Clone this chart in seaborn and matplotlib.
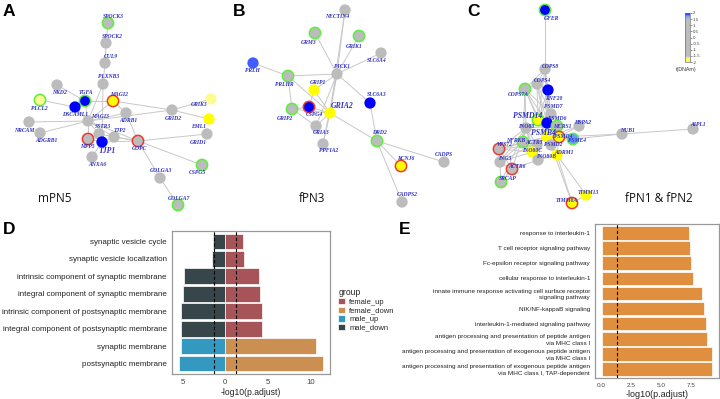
import matplotlib

matplotlib.use("Agg")
import matplotlib.pyplot as plt
import numpy as np
import pandas as pd
import seaborn as sns
from matplotlib.cm import ScalarMappable
from matplotlib.colors import LinearSegmentedColormap, Normalize

sns.set_style("white")
plt.rcParams["font.family"] = ["Liberation Sans", "DejaVu Sans"]

# ---------------- network panels (layout in figure pixels) ----------------
A_genes = ["SPOCK3", "SPOCK2", "CUL9", "PLXNB3", "NKD2", "PLCL2", "TGFA", "MAGI2",
           "DSCAML1", "ADRB1", "GRID2", "GRIK3", "EML1", "GRID1", "NRCAM", "MAGI3",
           "ADGRB1", "SSTR3", "TJP2", "MPP5", "TJP1", "GOPC", "ANXA6", "CSPG5",
           "GOLGA3", "GOLGA7"]
A_x = [108, 106, 105, 103, 57, 40, 85, 113, 75, 126, 172, 211, 209, 207, 29, 88,
       40, 99, 114, 88, 102, 138, 92, 202, 160, 178]
A_y = [23, 43, 63, 84, 85, 100, 101, 101, 107, 113, 110, 99, 119, 134, 122, 121,
       133, 134, 137, 139, 142, 141, 157, 165, 178, 205]
A_lx = [113, 112, 111, 109, 59, 39, 86, 119, 75, 128, 173, 199, 199, 198, 24, 100,
        46, 103, 120, 87, 107, 140, 97, 197, 161, 179]
A_ly = [16, 37, 57, 77, 93, 109, 93, 94, 115, 121, 118, 105, 126, 142, 130, 116,
        141, 127, 131, 147, 151, 149, 165, 173, 171, 198]
A_t = [0, 0, 0, 0, 0, -1.75, 2, -2, 2, 0, 0, -1.75, -2, 0, 0, 0, 0, 0, 0, 0, 2,
       0, 0, 0, 0, 0]
A_ring = ["g", "", "", "", "", "g", "g", "r", "", "", "", "", "", "", "", "", "",
          "", "", "r", "", "r", "", "g", "", "g"]
A_big = ["TJP1"]
A_edges = [("SPOCK3", "SPOCK2"), ("SPOCK2", "CUL9"), ("CUL9", "PLXNB3"),
           ("PLXNB3", "MAGI3"), ("PLXNB3", "TJP1"), ("NKD2", "TGFA"),
           ("PLCL2", "DSCAML1"), ("TGFA", "MAGI2"), ("TGFA", "MAGI3"),
           ("TGFA", "DSCAML1"), ("MAGI2", "GRID2"), ("MAGI2", "MAGI3"),
           ("MAGI2", "ADRB1"), ("DSCAML1", "MAGI3"), ("GRID2", "GRIK3"),
           ("GRID2", "EML1"), ("GRID2", "MAGI3"), ("GRID1", "GOPC"),
           ("NRCAM", "MAGI3"), ("ADGRB1", "MAGI3"), ("MAGI3", "SSTR3"),
           ("MAGI3", "TJP2"), ("MAGI3", "GOPC"), ("MAGI3", "ADRB1"),
           ("MAGI3", "MPP5"), ("SSTR3", "GOPC"), ("TJP2", "GOPC"),
           ("TJP1", "TJP2"), ("TJP1", "MPP5"), ("TJP1", "ANXA6"),
           ("TJP1", "GOPC"), ("ADRB1", "GOPC"), ("GOPC", "CSPG5"),
           ("GOPC", "GOLGA3"), ("GOLGA3", "GOLGA7")]

B_genes = ["NECTIN4", "GRM3", "GRIK1", "SLC6A4", "PRLH", "PICK1", "PRLHR", "GRIP1",
           "SLC6A3", "GRIP2", "CSPG4", "GRIA2", "GRIA3", "DRD2", "PPFIA2", "KCNJ6",
           "CADPS", "CADPS2"]
B_x = [345, 315, 359, 381, 253, 337, 288, 314, 370, 292, 309, 330, 316, 377, 323,
       401, 444, 402]
B_y = [10, 33, 36, 53, 63, 74, 76, 90, 103, 109, 107, 113, 126, 141, 144, 166,
       162, 202]
B_lx = [337, 309, 354, 377, 252, 342, 284, 318, 377, 285, 314, 342, 321, 379, 329,
        406, 444, 407]
B_ly = [17, 42, 46, 61, 71, 67, 85, 82, 95, 118, 115, 106, 133, 133, 151, 159,
        154, 195]
B_t = [0, 0, 0, 0, 1.85, 0, 0, -2, 2, 0, 2, -2, 0, 0, 0, -2, 0, 0]
B_ring = ["", "g", "g", "", "", "", "g", "", "", "g", "r", "", "", "g", "", "r",
          "", ""]
B_big = ["GRIA2"]
B_edges = [("NECTIN4", "PICK1"), ("NECTIN4", "GRIA2"), ("GRM3", "PICK1"),
           ("GRIK1", "PICK1"), ("SLC6A4", "PICK1"), ("PRLH", "PRLHR"),
           ("PRLHR", "PICK1"), ("PRLHR", "GRIP2"), ("PRLHR", "GRIA2"),
           ("PICK1", "GRIP1"), ("PICK1", "GRIA2"), ("PICK1", "SLC6A3"),
           ("PICK1", "GRIA3"), ("PICK1", "PPFIA2"), ("GRIP1", "GRIA2"),
           ("GRIP1", "CSPG4"), ("GRIP2", "CSPG4"), ("GRIP2", "GRIA2"),
           ("GRIP2", "GRIA3"), ("CSPG4", "GRIA2"), ("GRIA3", "GRIA2"),
           ("GRIA2", "PPFIA2"), ("GRIA2", "DRD2"), ("SLC6A3", "DRD2"),
           ("DRD2", "KCNJ6"), ("DRD2", "CADPS"), ("DRD2", "CADPS2")]

C_genes = ["GFER", "COPS8", "COPS4", "COPS7A", "RNF20", "PSMD7", "PSMD14", "PSMD6",
           "MCRS1", "HSPA2", "INO80", "PSMB4", "PSMD4", "PSME4", "NUB1", "AIPL1",
           "NFRKB", "ACTR5", "PSMD2", "INO80C", "INO80B", "ADRM1", "VPS72", "ING3",
           "ACTR6", "SRCAP", "TIMM13", "TIMM8A"]
C_x = [545, 545, 537, 525, 548, 551, 538, 547, 557, 579, 526, 547, 559, 573, 622,
       693, 523, 537, 551, 532, 538, 557, 499, 500, 512, 501, 586, 572]
C_y = [10, 69, 84, 89, 90, 114, 120, 123, 126, 126, 128, 137, 137, 139, 134, 129,
       142, 145, 145, 152, 160, 155, 149, 162, 169, 182, 195, 203]
C_lx = [551, 550, 542, 518, 554, 553, 528, 557, 562, 583, 526, 543, 563, 577, 627,
        698, 516, 534, 553, 532, 546, 564, 505, 505, 517, 508, 588, 567]
C_ly = [19, 66, 81, 94, 98, 107, 116, 119, 126, 123, 127, 133, 137, 141, 131, 124,
        140, 142, 145, 150, 156, 152, 144, 159, 166, 178, 192, 200]
C_t = [2, 0, 0, 0, 2, 0, -2, 2, 0, 0, 0, -2, -2, 1.75, 0, 0, 0, 0, 0, -2, 0, -2,
       0, 0, 0, 0, -2, -2]
C_ring = ["g", "", "", "g", "", "", "g", "", "g", "", "", "", "r", "g", "", "",
          "g", "", "", "", "", "", "r", "", "r", "g", "", "r"]
C_big = ["PSMD14", "PSMB4"]
C_edges = [("GFER", "COPS8"), ("COPS8", "COPS4"), ("COPS8", "COPS7A"),
           ("COPS8", "RNF20"), ("COPS8", "PSMD14"), ("COPS8", "PSMD7"),
           ("COPS8", "PSMB4"), ("COPS4", "COPS7A"), ("COPS4", "RNF20"),
           ("COPS4", "PSMD14"), ("COPS4", "PSMD7"), ("COPS4", "PSMB4"),
           ("COPS4", "PSMD6"), ("COPS7A", "PSMD14"), ("COPS7A", "PSMD7"),
           ("COPS7A", "INO80"), ("COPS7A", "PSMB4"), ("COPS7A", "PSMD6"),
           ("COPS7A", "NFRKB"), ("RNF20", "PSMD14"), ("RNF20", "PSMD6"),
           ("RNF20", "PSMB4"), ("PSMD7", "PSMD14"), ("PSMD7", "PSMD6"),
           ("PSMD7", "PSMB4"), ("PSMD14", "PSMD6"), ("PSMD14", "PSMB4"),
           ("PSMD14", "PSMD4"), ("PSMD6", "PSMB4"), ("PSMD6", "PSMD4"),
           ("PSMB4", "PSMD4"), ("PSMB4", "PSME4"), ("PSMB4", "ADRM1"),
           ("PSMB4", "PSMD2"), ("PSMD4", "PSME4"), ("PSMD4", "ADRM1"),
           ("PSMD4", "NUB1"), ("PSMD2", "ADRM1"), ("PSMD14", "ADRM1"),
           ("HSPA2", "PSMD4"), ("HSPA2", "PSMB4"), ("NUB1", "AIPL1"),
           ("NUB1", "PSME4"), ("MCRS1", "INO80"), ("MCRS1", "PSMD4"),
           ("INO80", "NFRKB"), ("INO80", "ACTR5"), ("INO80", "INO80C"),
           ("INO80", "INO80B"), ("INO80", "VPS72"), ("INO80", "ING3"),
           ("NFRKB", "ACTR5"), ("NFRKB", "INO80C"), ("NFRKB", "INO80B"),
           ("NFRKB", "VPS72"), ("NFRKB", "ING3"), ("ACTR5", "INO80C"),
           ("ACTR5", "INO80B"), ("ACTR5", "MCRS1"), ("INO80C", "INO80B"),
           ("INO80B", "ADRM1"), ("VPS72", "SRCAP"), ("VPS72", "ACTR6"),
           ("VPS72", "ING3"), ("VPS72", "ACTR5"), ("VPS72", "INO80C"),
           ("ING3", "ACTR6"), ("ACTR6", "SRCAP"), ("ACTR6", "INO80"),
           ("SRCAP", "INO80"), ("ACTR6", "INO80B"), ("ING3", "INO80C"),
           ("ADRM1", "TIMM13"), ("ADRM1", "TIMM8A"), ("TIMM13", "TIMM8A"),
           ("PSMD2", "TIMM8A"), ("INO80", "PSMD14"), ("NFRKB", "PSMB4"),
           ("ACTR5", "PSMB4"), ("VPS72", "PSMB4"), ("ING3", "PSMB4")]

# ---------------- bar panels ----------------
D_terms = ["synaptic vesicle cycle", "synaptic vesicle localization",
           "intrinsic component of synaptic membrane",
           "integral component of synaptic membrane",
           "intrinsic component of postsynaptic membrane",
           "integral component of postsynaptic membrane",
           "synaptic membrane", "postsynaptic membrane"]
D_female = [2.11, 2.22, 3.94, 4.02, 4.29, 4.33, 10.6, 11.46]
D_female_group = ["female_up"] * 6 + ["female_down"] * 2
D_male = [1.47, 1.59, 4.8, 4.95, 5.26, 5.26, 5.26, 5.5]
D_male_group = ["male_down"] * 6 + ["male_up"] * 2
D_groups = ["female_up", "female_down", "male_up", "male_down"]
D_colors = ["#b5464b", "#e08f3e", "#1ba3d8", "#34474e"]

E_terms = ["response to interleukin-1", "T cell receptor signaling pathway",
           "Fc-epsilon receptor signaling pathway",
           "cellular response to interleukin-1",
           "innate immune response activating cell surface receptor\nsignaling pathway",
           "NIK/NF-kappaB signaling", "interleukin-1-mediated signaling pathway",
           "antigen processing and presentation of peptide antigen\nvia MHC class I",
           "antigen processing and presentation of exogenous peptide antigen\nvia MHC class I",
           "antigen processing and presentation of exogenous peptide antigen\nvia MHC class I, TAP-dependent"]
E_values = [7.36, 7.42, 7.53, 7.70, 8.45, 8.60, 8.74, 8.85, 9.27, 9.29]

cutoff = -np.log10(0.05)

W, H = 720, 399
fig = plt.figure(figsize=(W / 100, H / 100), dpi=100)

net = fig.add_axes([0, 0, 1, 1])
net.set_xlim(0, W)
net.set_ylim(H, 0)
net.axis("off")

tcmap = LinearSegmentedColormap.from_list(
    "tdnam",
    [(0.0, "#ffff00"), (0.06, "#ffff90"), (0.125, "#bcbcbc"),
     (0.875, "#bcbcbc"), (0.94, "#6f9cff"), (1.0, "#0000ff")],
)
ring_col = {"g": "#5cee3a", "r": "#ee3a2a", "": "none"}
label_col = "#3030c0"


def draw_network(genes, xs, ys, lxs, lys, tvals, rings, edges, big):
    pos = dict(zip(genes, zip(xs, ys)))
    for a, b in edges:
        net.plot([pos[a][0], pos[b][0]], [pos[a][1], pos[b][1]],
                 color="#c8c8c8", lw=0.7, zorder=1)
    nodes = pd.DataFrame({"x": xs, "y": ys, "t": tvals})
    sns.scatterplot(data=nodes, x="x", y="y", hue="t", palette=tcmap,
                    hue_norm=(-2, 2), s=66, legend=False, ax=net, zorder=2,
                    edgecolor=[ring_col[r] for r in rings],
                    linewidth=[1.1 if r else 0 for r in rings])
    for g, lx, ly in zip(genes, lxs, lys):
        net.text(lx, ly, g, ha="center", va="center", color=label_col,
                 fontsize=5.6 if g in big else 4.1, fontstyle="italic",
                 fontweight="bold", family="Liberation Serif", zorder=3)


draw_network(A_genes, A_x, A_y, A_lx, A_ly, A_t, A_ring, A_edges, A_big)
draw_network(B_genes, B_x, B_y, B_lx, B_ly, B_t, B_ring, B_edges, B_big)
draw_network(C_genes, C_x, C_y, C_lx, C_ly, C_t, C_ring, C_edges, C_big)
net.set_xlim(0, W)
net.set_ylim(H, 0)
net.set_xlabel("")
net.set_ylabel("")

for letter, lx, ly in [("A", 9, 11), ("B", 239, 11), ("C", 474, 11),
                       ("D", 9, 229), ("E", 405, 229)]:
    net.text(lx, ly, letter, ha="center", va="center", fontsize=12.5,
             fontweight="bold", color="black")
for name, lx, ly in [("mPN5", 55, 199), ("fPN3", 312, 198),
                     ("fPN1 & fPN2", 659, 198)]:
    net.text(lx, ly, name, ha="center", va="center", fontsize=8.5,
             family="Open Sans", color="#111111")

# colour bar
cax = fig.add_axes([684.5 / W, 1 - 62 / H, 5 / W, 49 / H])
cb = fig.colorbar(ScalarMappable(norm=Normalize(-2, 2), cmap=tcmap), cax=cax,
                  ticks=np.arange(-2, 2.01, 0.5))
cb.ax.set_yticklabels(["-2", "-1.5", "-1", "-0.5", "0", "0.5", "1", "1.5", "2"])
cb.ax.tick_params(labelsize=3.2, length=1.5, width=0.4, pad=0.8, colors="#444444")
cb.outline.set_linewidth(0.5)
cb.outline.set_edgecolor("#777777")
net.text(686, 70, "t(DNAm)", ha="center", va="center", fontsize=3.8,
         color="#333333")

# ---------------- panel D ----------------
d_df = pd.DataFrame({
    "term": D_terms * 2,
    "value": D_female + [-v for v in D_male],
    "group": D_female_group + D_male_group,
})
axD = fig.add_axes([171.7 / W, 1 - 374 / H, 158.3 / W, 143 / H])
sns.barplot(data=d_df, x="value", y="term", hue="group", order=D_terms,
            hue_order=D_groups, palette=dict(zip(D_groups, D_colors)),
            dodge=False, orient="h", width=0.9, edgecolor="white",
            linewidth=0.5, ax=axD, legend=True)
for xv in (-cutoff, cutoff):
    axD.axvline(xv, color="black", ls=(0, (3, 2)), lw=0.8)
axD.set_xlim(-6.3, 12.3)
axD.set_ylim(7.6, -0.6)
axD.set_xticks([-5, 0, 5, 10])
axD.set_xticklabels(["5", "0", "5", "10"])
axD.set_xlabel("-log10(p.adjust)", fontsize=6.2, color="#222222", labelpad=1.5)
axD.set_ylabel("")
axD.tick_params(axis="both", length=2, width=0.5, color="#555555", pad=1.5)
axD.tick_params(axis="y", labelsize=5.8, labelcolor="#222222")
axD.tick_params(axis="x", labelsize=5.6, labelcolor="#444444")
handles, labels = axD.get_legend_handles_labels()
axD.get_legend().remove()
fig.legend(handles, labels, title="group", loc="upper left",
           bbox_to_anchor=(333 / W, 1 - 283 / H), frameon=False, fontsize=5.5,
           title_fontsize=6.2, handlelength=0.9, handleheight=0.9,
           labelspacing=0.1, handletextpad=0.5, borderpad=0.2,
           alignment="left")

# ---------------- panel E ----------------
e_df = pd.DataFrame({"term": E_terms, "value": E_values})
axE = fig.add_axes([595 / W, 1 - 378 / H, 124.3 / W, 154 / H])
sns.barplot(data=e_df, x="value", y="term", order=E_terms, color="#e08f3e",
            saturation=1, orient="h", width=0.9, edgecolor="white",
            linewidth=0.5, ax=axE)
axE.axvline(cutoff, color="black", ls=(0, (3, 2)), lw=0.8)
axE.set_xlim(-0.56, 9.88)
axE.set_ylim(9.6, -0.6)
axE.set_xticks([0, 2.5, 5, 7.5])
axE.set_xticklabels(["0.0", "2.5", "5.0", "7.5"])
axE.set_xlabel("-log10(p.adjust)", fontsize=6.5, color="#222222", labelpad=1.5)
axE.set_ylabel("")
axE.tick_params(axis="both", length=2, width=0.5, color="#555555", pad=1.5)
axE.tick_params(axis="y", labelsize=4.6, labelcolor="#222222")
axE.tick_params(axis="x", labelsize=4.6, labelcolor="#444444")
for lab in axE.get_yticklabels():
    lab.set_linespacing(1.35)

for ax in (axD, axE):
    for sp in ax.spines.values():
        sp.set_visible(True)
        sp.set_color("#999999")
        sp.set_linewidth(0.9)

fig.savefig("out.png", dpi=100)
